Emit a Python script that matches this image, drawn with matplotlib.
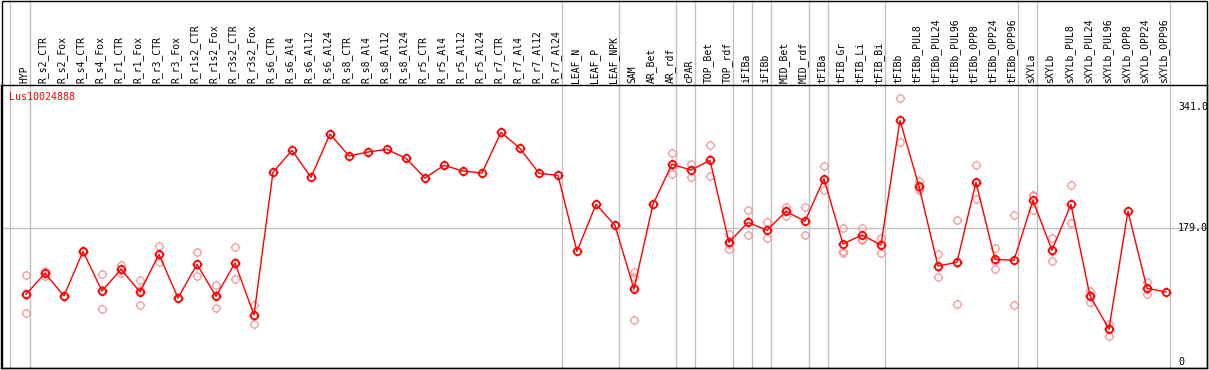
import matplotlib
matplotlib.use("Agg")
import matplotlib.pyplot as plt
from matplotlib.path import Path
from matplotlib.markers import MarkerStyle
from matplotlib.patches import Rectangle
import matplotlib.transforms as mtransforms
import numpy as np

categories = ["HYP", "R_s2_CTR", "R_s2_Fox", "R_s4_CTR", "R_s4_Fox", "R_r1_CTR", "R_r1_Fox",
              "R_r3_CTR", "R_r3_Fox", "R_r1s2_CTR", "R_r1s2_Fox", "R_r3s2_CTR", "R_r3s2_Fox",
              "R_s6_CTR", "R_s6_Al4", "R_s6_Al12", "R_s6_Al24", "R_s8_CTR", "R_s8_Al4",
              "R_s8_Al12", "R_s8_Al24", "R_r5_CTR", "R_r5_Al4", "R_r5_Al12", "R_r5_Al24",
              "R_r7_CTR", "R_r7_Al4", "R_r7_Al12", "R_r7_Al24", "LEAF_N", "LEAF_P", "LEAF_NPK",
              "SAM", "AR_Bet", "AR_rdf", "cPAR", "TOP_Bet", "TOP_rdf", "iFIBa", "iFIBb",
              "MID_Bet", "MID_rdf", "tFIBa", "tFIB_Gr", "tFIB_Li", "tFIB_Bi", "tFIBb",
              "tFIBb_PUL8", "tFIBb_PUL24", "tFIBb_PUL96", "tFIBb_OPP8", "tFIBb_OPP24",
              "tFIBb_OPP96", "sXYLa", "sXYLb", "sXYLb_PUL8", "sXYLb_PUL24", "sXYLb_PUL96",
              "sXYLb_OPP8", "sXYLb_OPP24", "sXYLb_OPP96"]

means = [90.9, 119, 88.7, 148.3, 95.3, 124.3, 94, 144.3, 86, 131, 88.2, 132.7, 63.3,
         253.8, 283.2, 247.1, 304.9, 275.6, 280.9, 284.5, 272.5, 246.2, 263.2, 255.5, 252.9,
         307.2, 285.8, 252.5, 249.8, 148.3, 211.1, 183.0,
         98, 211.1, 264.5, 256.9, 269.8, 160.3, 187, 176.4, 201.7, 188.4, 245.3, 158.1,
         170.1, 156.7, 323.2, 235.1, 128.7, 133.6, 240.5, 137.6, 136.3, 216.4, 149.7,
         211.1, 88.7, 44.6, 202.1, 98.9, 94]

replicates = [
    (116.7, 90.5, 65.5), (122.5, 119, 116), (89, 88, 89), (148, 149, 148),
    (117.6, 97, 70.9), (129.6, 124, 119), (109.6, 96, 76.2), (155.4, 144, 133.6),
    (86, 86, 86), (147, 131, 115), (102.9, 89.5, 72.2), (153.7, 133.5, 110.9),
    (76.6, 62.4, 50.9),
    (253.8,), (283.2,), (247.1,), (304.9,), (275.6,), (280.9,), (284.5,), (272.5,),
    (246.2,), (263.2,), (255.5,), (252.9,), (307.2,), (285.8,), (252.5,), (249.8,),
    (148.3,), (211.1,), (183.0,),
    (121.1, 114.4, 101, 56), (211.1,), (279.6, 262.8, 251.1), (265.3, 257.5, 247.9),
    (289.8, 271.2, 248.4), (171.4, 158.5, 151), (203.1, 188.2, 169.7),
    (187, 176.5, 165.7), (207.5, 201.7, 195.9), (207.1, 188.4, 169.7),
    (261.8, 243.5, 230.6), (179, 149.1, 146.5), (179, 165.2, 163.4),
    (165.7, 157.9, 146.5), (352.6, 323.1, 293.9), (242.6, 233, 229.8),
    (144.7, 127.8, 113.6), (189.7, 133.1, 78), (263.2, 239.7, 218.6),
    (152.7, 135.8, 124.3), (196.4, 136.3, 76.2), (223.9, 222.2, 203.1),
    (165.7, 148.4, 135), (236.4, 211.2, 185.7), (95.3, 89.8, 81),
    (51.7, 46.4, 35.7), (202.1,), (107.3, 98.5, 90.9), (94,)]

group_ends = [0, 28, 31, 34, 35, 37, 38, 39, 41, 42, 45, 52, 53, 60]
gene = "Lus10024888"
ytick_vals = [341.0, 179.0, 0]
ytick_labels = ["341.0", "179.0", "0"]

# custom marker: circle with four small ticks
theta = np.linspace(0, 2 * np.pi, 33)
verts = [(np.cos(t), np.sin(t)) for t in theta]
codes = [Path.MOVETO] + [Path.LINETO] * (len(theta) - 1)
for (dx, dy) in [(1, 0), (-1, 0), (0, 1), (0, -1)]:
    verts += [(dx * 1.0, dy * 1.0), (dx * 1.35, dy * 1.35)]
    codes += [Path.MOVETO, Path.LINETO]
sun = MarkerStyle(Path(verts, codes))

W, H = 1209, 370
fig = plt.figure(figsize=(W / 100, H / 100), dpi=100)
fig.patch.set_facecolor("white")
ax_left, ax_right, ax_top, ax_bottom = 1, 1207, 85, 368
ax = fig.add_axes([ax_left / W, (H - ax_bottom) / H,
                   (ax_right - ax_left) / W, (ax_bottom - ax_top) / H])

x = np.arange(len(categories))
ax.set_xlim(-1.316, 62.16)
ax.set_ylim(-7.5, 370.4)

# gridlines
ax.axhline(179.0, color="#c0c0c0", lw=1.0, zorder=1)
frac_top = (ax_bottom - 0) / (ax_bottom - ax_top)
for g in [-1.07] + group_ends:
    ax.axvline(g + 0.23, ymin=0, ymax=frac_top, color="#c0c0c0", lw=1.0,
               clip_on=False, zorder=1)

# replicates
for xi, reps in zip(x, replicates):
    ax.plot([xi] * len(reps), reps, linestyle="none", marker=sun, markersize=7,
            markerfacecolor="none", markeredgecolor="#f09a9a", markeredgewidth=0.9,
            zorder=2)

ax.plot(x, means, color="#ff0000", lw=1.0, zorder=3)
ax.plot(x, means, linestyle="none", marker=sun, markersize=7,
        markerfacecolor="none", markeredgecolor="#ff0000", markeredgewidth=1.2, zorder=4)

for s in ax.spines.values():
    s.set_color("black")
    s.set_linewidth(1.0)
ax.set_xticks([])
ax.set_yticks([])

mono = "DejaVu Sans Mono"
label_y = (ax_bottom - 83) / (ax_bottom - ax_top)
trans = mtransforms.blended_transform_factory(ax.transData, ax.transAxes)
for xi, c in zip(x, categories):
    ax.text(xi - 0.1, label_y, c, rotation=90, ha="center", va="bottom",
            fontsize=7, family=mono, transform=trans, clip_on=False)

for v, lab in zip(ytick_vals, ytick_labels):
    ax.text((1178 - ax_left) / (ax_right - ax_left), v, lab, ha="left", va="center",
            fontsize=7.2, family=mono,
            transform=mtransforms.blended_transform_factory(ax.transAxes, ax.transData),
            clip_on=True)

ax.text((9.3 - ax_left) / (ax_right - ax_left), (ax_bottom - 96.7) / (ax_bottom - ax_top),
        gene, color="#ff0000", fontsize=7.2, family=mono, ha="left", va="center",
        transform=ax.transAxes)

# outer border
fig.patches.append(Rectangle((1.5 / W, (H - ax_bottom) / H), (ax_right - 1.5) / W,
                             (ax_bottom - 0.5) / H, fill=False, edgecolor="black",
                             lw=1.0, transform=fig.transFigure, figure=fig))

fig.savefig("out.png", dpi=100)
